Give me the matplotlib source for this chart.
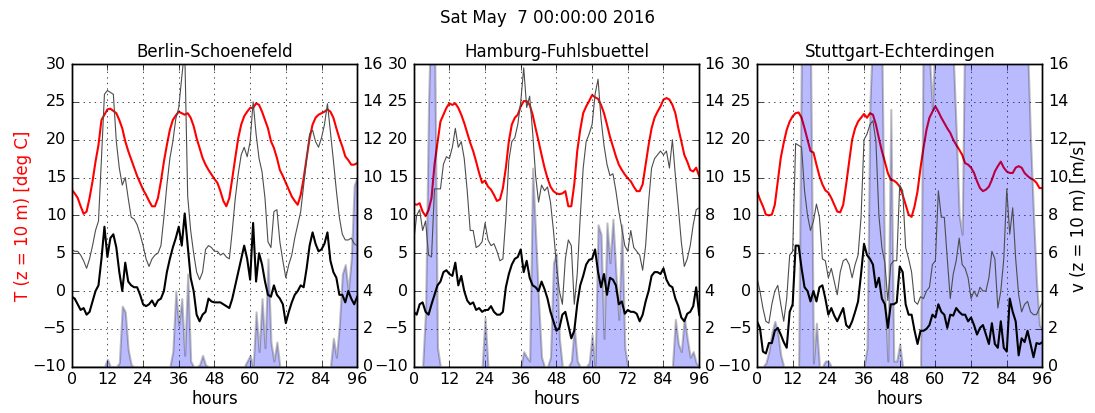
import numpy as np
import matplotlib
matplotlib.use('Agg')
import matplotlib.pyplot as plt

plt.style.use('classic')

title = 'Sat May  7 00:00:00 2016'
stations = ['Berlin-Schoenefeld', 'Hamburg-Fuhlsbuettel', 'Stuttgart-Echterdingen']
xticks = list(range(0, 97, 12))

# hourly values, 0..96 h
berlin_t = [13.4, 12.9, 12.3, 11.2, 10.2, 10.5, 12.3, 14.5, 17.1, 19.3, 22.6, 23.3,
            24.0, 24.1, 23.8, 23.5, 22.6, 21.5, 19.8, 18.5, 17.4, 16.3, 15.2, 14.3,
            13.4, 12.7, 11.9, 11.2, 11.2, 12.3, 14.5, 17.1, 19.3, 21.3, 22.6, 23.2,
            23.7, 23.5, 23.3, 23.5, 22.9, 21.8, 20.2, 18.9, 17.6, 16.7, 16.0, 15.4,
            14.8, 14.3, 13.2, 11.9, 11.2, 12.3, 14.9, 17.6, 20.2, 22.0, 23.1, 23.7,
            24.2, 24.2, 24.8, 24.6, 23.7, 22.6, 21.5, 19.8, 18.9, 17.6, 16.0, 15.2,
            14.3, 13.4, 12.5, 11.9, 11.4, 12.7, 14.9, 17.6, 20.2, 22.0, 22.9, 23.3,
            23.5, 23.7, 24.0, 23.7, 22.9, 21.5, 20.2, 19.1, 17.8, 17.3, 16.7, 16.7,
            16.9]
berlin_gust = [6.2, 6.1, 6.1, 5.9, 5.6, 5.2, 5.7, 6.4, 7.2, 7.7, 11.0, 14.4,
               14.6, 14.5, 14.4, 11.9, 10.5, 9.6, 10.0, 8.9, 7.9, 7.8, 7.5, 7.0,
               6.4, 5.7, 5.3, 5.7, 5.9, 6.0, 6.4, 7.9, 9.6, 11.0, 11.9, 13.1,
               13.7, 15.3, 16.8, 9.0, 7.2, 6.0, 5.0, 4.6, 5.0, 6.2, 6.4, 6.3,
               6.1, 6.1, 5.9, 6.0, 5.8, 5.7, 7.2, 8.9, 10.2, 11.2, 11.6, 11.1,
               11.9, 14.0, 12.3, 11.0, 10.3, 8.9, 6.6, 6.3, 8.2, 8.3, 6.6, 5.6,
               4.7, 5.4, 5.9, 6.8, 7.5, 8.2, 9.6, 11.0, 12.3, 12.5, 11.9, 11.6,
               12.1, 12.8, 13.9, 12.4, 10.9, 9.3, 7.9, 7.0, 6.7, 6.7, 6.8, 6.5,
               6.4]
berlin_v = [3.7, 3.6, 3.3, 3.0, 3.1, 2.75, 2.9, 3.45, 4.0, 4.3, 5.7, 7.4,
            5.8, 6.8, 7.0, 6.3, 5.0, 4.0, 5.5, 4.5, 4.3, 4.2, 4.2, 3.8,
            3.3, 3.2, 3.3, 3.5, 3.2, 3.5, 3.6, 4.0, 5.0, 5.7, 6.3, 6.8,
            7.4, 6.4, 8.1, 6.4, 4.7, 4.0, 2.75, 2.4, 2.75, 2.9, 3.6, 3.45,
            3.4, 3.4, 3.4, 3.3, 3.2, 3.1, 3.6, 4.3, 5.0, 5.7, 6.4, 5.7,
            4.6, 7.6, 4.5, 6.0, 5.4, 4.5, 3.8, 3.7, 4.3, 3.8, 3.6, 3.3,
            2.3, 2.9, 3.4, 3.8, 4.0, 4.3, 4.2, 5.2, 6.4, 7.1, 6.5, 6.1,
            6.2, 6.5, 7.1, 5.6, 5.0, 4.7, 3.8, 3.8, 3.4, 4.0, 3.6, 3.3,
            3.7]
berlin_fill = [0, 0, 0, 0, 0, 0, 0, 0, 0, 0, 0, 0,
               0.4, 0, 0, 0, 0.2, 3.2, 2.9, 0.9, 0.1, 0, 0, 0,
               0, 0, 0, 0, 0, 0, 0, 0, 0, 0, 0.8, 4.0,
               2.2, 3.6, 0.6, 4.9, 0.3, 0, 0, 0.1, 0.6, 0.1, 0, 0,
               0, 0, 0, 0, 0, 0, 0, 0, 0, 0, 0, 0.3,
               0.6, 0, 2.9, 0.8, 3.6, 1.0, 5.7, 1.3, 0.3, 1.3, 0, 0,
               0, 0, 0, 0, 0, 0, 0, 0, 0, 0, 0, 0,
               0, 0, 0, 0, 1.5, 0.5, 2.2, 4.9, 5.4, 4.0, 5.7, 9.6,
               10.0]

hamburg_t = [11.5, 11.4, 11.6, 10.5, 9.9, 10.7, 12.3, 16.7, 19.6, 22.4, 23.3, 24.2,
             24.8, 24.6, 24.8, 24.2, 23.3, 22.2, 20.9, 19.6, 18.5, 17.1, 15.6, 14.3,
             14.6, 13.8, 13.4, 12.7, 11.9, 12.1, 13.6, 16.3, 19.8, 22.0, 22.9, 23.3,
             24.4, 25.1, 25.1, 24.6, 23.3, 21.5, 19.8, 18.0, 16.3, 14.9, 13.8, 13.2,
             12.9, 12.8, 12.9, 13.2, 11.2, 11.2, 14.1, 18.5, 21.3, 23.5, 24.4, 25.1,
             25.9, 25.6, 25.4, 24.6, 23.5, 22.0, 20.4, 19.1, 17.8, 16.7, 16.0, 15.4,
             14.9, 14.5, 13.8, 13.2, 13.2, 14.1, 16.7, 19.3, 21.5, 22.9, 23.7, 24.4,
             25.3, 25.5, 25.3, 24.6, 23.5, 21.5, 19.8, 18.0, 17.1, 16.0, 15.8, 16.3,
             15.2]
hamburg_gust = [6.6, 8.0, 8.3, 7.2, 7.7, 5.9, 5.8, 9.4, 9.4, 9.4, 10.7, 11.1,
                11.0, 11.6, 12.6, 11.6, 11.9, 11.0, 9.3, 7.2, 7.2, 6.3, 6.4, 6.6,
                7.6, 6.7, 6.4, 6.5, 6.1, 5.6, 5.7, 7.9, 10.9, 11.9, 12.1, 12.8,
                14.0, 15.8, 13.7, 14.3, 12.4, 10.1, 8.7, 9.6, 9.3, 9.5, 8.7, 7.2,
                5.4, 4.0, 3.3, 5.7, 6.7, 6.4, 3.3, 4.9, 7.9, 10.5, 11.9, 12.3,
                12.8, 14.4, 15.2, 13.1, 11.7, 10.7, 10.1, 10.2, 9.3, 8.2, 7.3, 6.4,
                6.1, 7.2, 6.3, 6.1, 5.9, 5.1, 6.4, 8.7, 10.5, 11.0, 11.2, 11.4,
                11.2, 11.4, 10.5, 12.0, 10.1, 8.4, 6.6, 5.3, 5.7, 6.4, 7.5, 8.3,
                8.4]
hamburg_v = [2.9, 2.75, 3.3, 3.4, 2.9, 2.75, 3.3, 3.8, 4.3, 4.5, 5.0, 5.1,
             4.9, 4.8, 5.5, 4.3, 4.8, 4.0, 3.5, 3.3, 3.4, 3.0, 3.1, 2.9,
             3.0, 3.0, 3.2, 2.9, 2.75, 2.75, 2.9, 4.2, 4.9, 5.4, 5.7, 5.8,
             6.2, 5.0, 5.6, 4.7, 4.3, 4.2, 4.0, 4.5, 4.1, 3.6, 2.9, 2.4,
             1.9, 2.05, 2.75, 2.9, 2.2, 1.5, 1.9, 3.3, 4.3, 4.8, 5.4, 5.65,
             5.7, 6.2, 5.0, 4.2, 4.9, 3.8, 4.7, 4.6, 4.3, 3.3, 3.45, 2.8,
             3.0, 2.9, 2.9, 2.8, 2.4, 2.75, 3.45, 4.0, 4.8, 5.0, 5.0, 4.9,
             5.2, 4.6, 4.3, 4.2, 3.6, 3.2, 2.6, 2.4, 2.8, 2.9, 3.2, 4.2,
             2.75]
hamburg_fill = [0, 0, 0, 0, 3.0, 14.0, 20.0, 18.0, 1.0, 0, 0, 0,
                0, 0, 0, 0, 0, 0, 0, 0, 0, 0, 0, 0,
                2.6, 0, 0, 0, 0, 0, 0, 0, 0, 0, 0, 0,
                0, 0.8, 0.5, 0.3, 10.5, 7.0, 3.5, 0.5, 0, 0, 0.5, 5.5,
                6.0, 1.5, 0, 0, 0, 0.3, 2.1, 0.3, 0, 0, 0, 0.2,
                1.7, 0, 7.5, 7.0, 1.5, 7.6, 5.5, 7.8, 5.0, 2.5, 7.5, 1.0,
                0, 0, 0, 0, 0, 0, 0, 0, 0, 0, 0, 0,
                0, 0, 0, 0, 2.5, 1.2, 0.8, 2.6, 1.5, 0.5, 0.8, 0.2,
                0]

stuttgart_t = [13.2, 12.1, 11.2, 10.1, 10.0, 10.1, 11.4, 14.5, 17.6, 19.6, 21.3, 22.4,
               23.1, 23.5, 23.6, 22.9, 21.5, 20.0, 18.5, 18.3, 16.7, 15.2, 14.1, 13.3,
               13.0, 12.3, 11.4, 10.5, 10.4, 11.4, 14.1, 17.1, 20.0, 21.5, 22.4, 22.9,
               23.4, 22.9, 23.5, 23.3, 22.0, 20.2, 18.5, 17.1, 15.6, 14.7, 14.6, 14.3,
               13.8, 12.7, 11.4, 10.1, 9.8, 11.2, 13.2, 16.3, 18.9, 21.3, 22.9, 23.7,
               24.4, 23.7, 22.9, 22.2, 21.5, 20.9, 20.0, 19.3, 18.7, 18.0, 16.9, 16.7,
               16.3, 15.6, 14.5, 13.6, 13.2, 13.4, 13.8, 14.7, 15.8, 16.5, 17.1, 16.3,
               15.8, 15.6, 15.6, 16.3, 16.5, 16.3, 15.6, 15.2, 14.9, 14.7, 14.3, 13.6,
               13.6]
stuttgart_gust = [4.7, 4.0, 3.1, 2.4, 2.3, 3.3, 4.0, 4.3, 3.3, 2.4, 3.6, 5.9,
                  6.1, 11.8, 11.7, 11.6, 9.3, 8.0, 7.2, 7.7, 8.6, 7.9, 5.7, 5.6,
                  4.7, 5.2, 4.5, 3.8, 5.0, 5.6, 5.7, 5.4, 4.7, 5.4, 5.9, 7.9,
                  12.0, 12.3, 12.8, 13.0, 11.9, 8.0, 6.3, 5.5, 3.5, 5.4, 5.6, 5.6,
                  9.6, 9.3, 6.3, 5.7, 5.0, 3.45, 3.3, 3.7, 3.6, 4.0, 4.2, 5.4,
                  5.6, 9.3, 7.9, 7.9, 5.7, 3.6, 4.9, 5.6, 6.8, 5.4, 5.2, 4.7,
                  3.6, 4.0, 3.7, 4.2, 4.0, 4.0, 4.7, 6.1, 5.7, 3.1, 4.0, 5.7,
                  9.4, 7.0, 8.4, 5.7, 3.8, 2.9, 3.3, 3.45, 2.9, 2.75, 2.75, 3.1,
                  3.4]
stuttgart_v = [2.4, 2.05, 0.8, 0.7, 1.25, 1.25, 1.9, 2.05, 1.7, 1.3, 1.0, 2.9,
               3.3, 6.4, 6.4, 5.2, 4.2, 4.0, 3.45, 4.0, 3.45, 4.2, 4.3, 3.6,
               2.75, 3.1, 2.7, 2.4, 2.75, 3.1, 2.2, 2.05, 2.4, 2.9, 3.45, 4.9,
               6.5, 5.9, 5.7, 5.4, 4.2, 4.7, 3.6, 3.3, 2.05, 3.3, 3.3, 3.4,
               5.3, 5.0, 3.3, 2.75, 2.75, 1.9, 1.2, 1.9, 1.9, 2.0, 2.2, 2.75,
               2.6, 3.3, 2.9, 2.75, 2.05, 2.75, 2.7, 3.1, 2.9, 2.75, 2.75, 2.4,
               2.6, 2.2, 1.7, 2.05, 2.2, 1.7, 1.2, 2.3, 1.2, 1.0, 2.4, 1.0,
               0.8, 3.6, 2.9, 2.4, 0.6, 1.5, 1.3, 1.9, 1.2, 0.5, 1.25, 1.2,
               1.3]
stuttgart_fill = [0, 0, 0, 0.2, 0.8, 1.8, 2.4, 1.8, 0.6, 0, 0, 0,
                  0, 0, 0, 18, 18, 18, 17, 0.2, 2.3, 0, 0, 0.3,
                  0.3, 0, 0, 0, 0, 0, 0, 0, 0, 0, 0, 0,
                  0, 1.0, 14, 18, 18, 18, 17, 4, 0.3, 13.6, 0.3, 0.3,
                  1.2, 0, 0, 0, 0, 0, 0, 0, 20, 18, 16.5, 13.6,
                  18, 20, 20, 20, 20, 20, 16.5, 12.5, 8.0, 7.0, 20, 20,
                  20, 20, 20, 20, 20, 20, 20, 20, 20, 20, 20, 20,
                  20, 20, 20, 20, 20, 20, 20, 17, 12, 8, 4.5, 2.2,
                  2.0]

temps = [berlin_t, hamburg_t, stuttgart_t]
gusts = [berlin_gust, hamburg_gust, stuttgart_gust]
winds = [berlin_v, hamburg_v, stuttgart_v]
fills = [berlin_fill, hamburg_fill, stuttgart_fill]

fig = plt.figure(figsize=(10.95, 4.13), dpi=100, facecolor='white')
fig.suptitle(title, fontsize=12, y=0.956, va='center')

lefts = [0.0655, 0.3778, 0.6913]
for i in range(3):
    hours = np.arange(len(temps[i]))
    ax = fig.add_axes([lefts[i], 0.1121, 0.2607, 0.7329])
    ax.plot(hours, temps[i], color='r', lw=1.5)
    ax.set_xlim(0, 96)
    ax.set_ylim(-10, 30)
    ax.set_xticks(xticks)
    ax.grid(True)
    ax.set_title(stations[i], fontsize=12)
    ax.set_xlabel('hours', labelpad=2)
    ax.tick_params(labelsize=11.5)

    ax2 = ax.twinx()
    ax2.fill_between(hours, 0, fills[i], facecolor=(0, 0, 1, 0.27),
                     edgecolor=(0, 0, 0, 0.25), lw=1.5)
    ax2.plot(hours, gusts[i], color='0.3', lw=0.8)
    ax2.plot(hours, winds[i], color='k', lw=1.5)
    ax2.set_xlim(0, 96)
    ax2.set_ylim(0, 16)
    ax2.tick_params(labelsize=11.5)

    if i == 0:
        ax.set_ylabel('T (z = 10 m) [deg C]', color='r', labelpad=0)
    if i == 2:
        ax2.set_ylabel('v (z = 10 m) [m/s]', labelpad=1)

fig.savefig('out.png', dpi=100, facecolor='white')
